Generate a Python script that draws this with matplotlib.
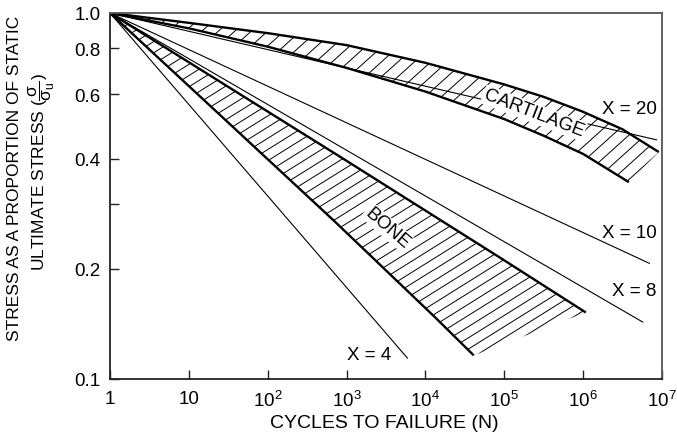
import matplotlib
matplotlib.use('Agg')
import matplotlib.pyplot as plt
import numpy as np
from matplotlib.patches import Polygon
from matplotlib.collections import LineCollection
from matplotlib.ticker import NullLocator

plt.rcParams['font.family'] = ['Liberation Sans', 'DejaVu Sans']
plt.rcParams['mathtext.fontset'] = 'custom'
plt.rcParams['mathtext.rm'] = 'Liberation Sans'
plt.rcParams['mathtext.it'] = 'Liberation Sans'
plt.rcParams['mathtext.default'] = 'regular'

# fatigue lines sigma/sigma_u = N^(-1/X)
x_params = [4, 8, 10, 20]
x_line_end = [5.9e3, 5.7e6, 6.9e6, 8.5e6]

# cartilage band
cart_up_n = [1, 10, 1e2, 1e3, 1e4, 1e5, 3.16e5, 1e6, 3.16e6, 9.1e6]
cart_up_s = [1.0, 0.940, 0.881, 0.817, 0.731, 0.638, 0.590, 0.537, 0.481, 0.417]
cart_lo_n = [1, 10, 1e2, 1e3, 1e4, 1e5, 3.16e5, 1e6, 3.8e6]
cart_lo_s = [1.0, 0.908, 0.809, 0.708, 0.610, 0.513, 0.462, 0.412, 0.345]

# bone band
bone_up_n = [1, 840, 9.0e4, 1.08e6]
bone_up_s = [1.0, 0.404, 0.214, 0.152]
bone_lo_n = [1, 30, 700, 1.3e4, 4.1e4]
bone_lo_s = [1.0, 0.507, 0.270, 0.148, 0.116]

x_ticks = [1, 10, 1e2, 1e3, 1e4, 1e5, 1e6, 1e7]
x_ticklabels = ['1', '10', '$10^2$', '$10^3$', '$10^4$', '$10^5$', '$10^6$', '$10^7$']
y_ticks = [0.1, 0.2, 0.3, 0.4, 0.6, 0.8, 1.0]
y_ticklabels = ['0.1', '0.2', '', '0.4', '0.6', '0.8', '1.0']

W, H = 677, 439
fig = plt.figure(figsize=(W / 100, H / 100), dpi=100)
ax = fig.add_axes([110 / W, 1 - 380 / H, 552 / W, 366 / H])
ax.set_xscale('log')
ax.set_yscale('log')
ax.set_xlim(1, 1e7)
ax.set_ylim(0.1, 1.0)

ax_w, ax_h = 552.0, 366.0


def hatch(up_n, up_s, lo_n, lo_s, angle, spacing):
    verts = list(zip(up_n, up_s)) + list(zip(lo_n, lo_s))[::-1]
    poly = Polygon(verts, closed=True, facecolor='none', edgecolor='none',
                   transform=ax.transData)
    ax.add_patch(poly)
    th = np.radians(angle)
    d = np.array([np.cos(th), np.sin(th)])
    nrm = np.array([-np.sin(th), np.cos(th)])
    segs = []
    L = 1200
    for c in np.arange(-L, L, spacing):
        p0 = c * nrm - L * d
        p1 = c * nrm + L * d
        segs.append([(p0[0] / ax_w, p0[1] / ax_h), (p1[0] / ax_w, p1[1] / ax_h)])
    lc = LineCollection(segs, colors='black', linewidths=0.7,
                        transform=ax.transAxes)
    ax.add_collection(lc)
    lc.set_clip_path(poly)


hatch(cart_up_n, cart_up_s, cart_lo_n, cart_lo_s, 42, 11)
hatch(bone_up_n, bone_up_s, bone_lo_n, bone_lo_s, 32, 9.5)

for n, s in [(cart_up_n, cart_up_s), (cart_lo_n, cart_lo_s),
             (bone_up_n, bone_up_s), (bone_lo_n, bone_lo_s)]:
    ax.plot(n, s, color='black', lw=1.7, solid_capstyle='butt')

for X, n_end in zip(x_params, x_line_end):
    n = np.logspace(0, np.log10(n_end), 50)
    ax.plot(n, n ** (-1.0 / X), color='black', lw=0.8)

fs = 13.5
ax.text(8.6e6, 0.547, 'X = 20', ha='right', va='center', fontsize=fs)
ax.text(8.6e6, 0.252, 'X = 10', ha='right', va='center', fontsize=fs)
ax.text(8.6e6, 0.175, 'X = 8', ha='right', va='center', fontsize=fs)
ax.text(1.95e3, 0.117, 'X = 4', ha='center', va='center', fontsize=fs)
ax.text(2.37e5, 0.533, 'CARTILAGE', ha='center', va='center', fontsize=fs,
        rotation=-21, bbox=dict(facecolor='white', edgecolor='none', pad=1))
ax.text(3.3e3, 0.259, 'BONE', ha='center', va='center', fontsize=fs,
        rotation=-41, bbox=dict(facecolor='white', edgecolor='none', pad=1))

ax.set_xticks(x_ticks)
ax.set_xticklabels(x_ticklabels)
ax.set_yticks(y_ticks)
ax.set_yticklabels(y_ticklabels)
ax.xaxis.set_minor_locator(NullLocator())
ax.yaxis.set_minor_locator(NullLocator())
ax.tick_params(direction='in', length=6.5, width=1, labelsize=13.5, color='#222')
ax.tick_params(axis='x', pad=8)
ax.tick_params(axis='y', pad=7)

for side in ['left', 'bottom']:
    ax.spines[side].set_linewidth(1.3)
    ax.spines[side].set_color('#222')
for side in ['top', 'right']:
    ax.spines[side].set_linewidth(1.3)
    ax.spines[side].set_color('#555')

fig.text(384 / W, 1 - 424 / H, 'CYCLES TO FAILURE (N)', ha='center', va='center',
         fontsize=14)
fig.text(15 / W, 1 - 178 / H, 'STRESS AS A PROPORTION OF STATIC', rotation=90,
         ha='center', va='center', fontsize=12.5)
fig.text(42 / W, 1 - 172 / H, r'ULTIMATE STRESS $(\dfrac{\sigma}{\sigma_u})$',
         rotation=90, ha='center', va='center', fontsize=12.5)

fig.savefig('out.png', dpi=100)
